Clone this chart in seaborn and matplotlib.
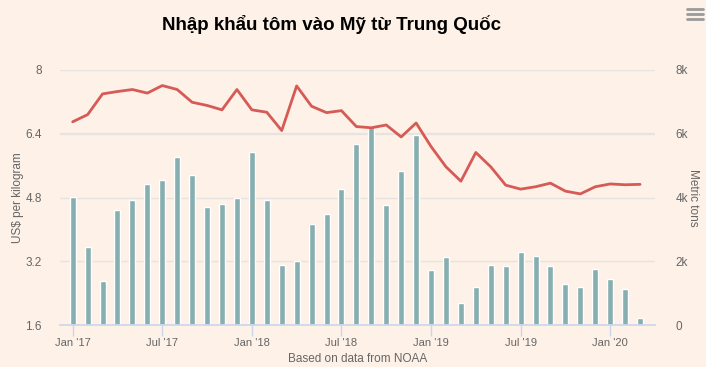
"""
Shrimp imports to the US from China: price line over volume bars.
"""

import matplotlib

matplotlib.use("Agg")

import matplotlib.pyplot as plt
import pandas as pd
import seaborn as sns
from matplotlib.lines import Line2D

# monthly data, Jan 2017 - Mar 2020
months = pd.date_range("2017-01-01", "2020-03-01", freq="MS").strftime("%Y-%m").tolist()

tons = [
    4025, 2457, 1391, 3618, 3932, 4434, 4559, 5281, 4716, 3712, 3806, 3995,
    5437, 3932, 1882, 2018, 3158, 3492, 4277, 5688, 6232, 3775, 4842, 5971,
    1736, 2144, 701, 1203, 1893, 1861, 2300, 2175, 1861, 1297, 1182, 1767,
    1453, 1140, 230,
]

usd_per_kg = [
    6.70, 6.88, 7.40, 7.46, 7.51, 7.42, 7.61, 7.51, 7.19, 7.11, 7.00, 7.51,
    7.00, 6.94, 6.48, 7.60, 7.09, 6.93, 6.98, 6.58, 6.55, 6.62, 6.32, 6.67,
    6.08, 5.57, 5.21, 5.93, 5.57, 5.11, 5.01, 5.07, 5.16, 4.96, 4.89, 5.07,
    5.14, 5.12, 5.13,
]

tick_months = ["2017-01", "2017-07", "2018-01", "2018-07", "2019-01", "2019-07", "2020-01"]
tick_labels = ["Jan '17", "Jul '17", "Jan '18", "Jul '18", "Jan '19", "Jul '19", "Jan '20"]

left_ticks = [1.6, 3.2, 4.8, 6.4, 8]
right_ticks = [0, 2000, 4000, 6000, 8000]
right_labels = ["0", "2k", "4k", "6k", "8k"]

BG = "#fdf1e8"
BAR = "#88afb0"
LINE = "#d65a55"
GRID = "#e6e3e0"
AXIS = "#ccd6eb"
TEXT = "#666666"

df = pd.DataFrame({"month": months, "tons": tons, "price": usd_per_kg})
df["idx"] = range(len(df))

sns.set_theme(style="white")
plt.rcParams["font.family"] = ["Liberation Sans", "DejaVu Sans"]

W, H = 706, 367
fig = plt.figure(figsize=(W / 100, H / 100), dpi=100, facecolor=BG)
ax_bar = fig.add_axes([60 / W, (H - 325) / H, (655 - 60) / W, (325 - 70) / H])
ax_bar.set_facecolor(BG)

sns.barplot(data=df, x="idx", y="tons", color=BAR, width=0.4, native_scale=True,
            saturation=1, ax=ax_bar, zorder=2)
ax_bar.set_ylim(0, 8000)
ax_bar.set_xlim(-0.85, 39.0)

ax_line = ax_bar.twinx()
sns.lineplot(data=df, x="idx", y="price", color=LINE, linewidth=2, ax=ax_line, zorder=3)
ax_line.set_ylim(1.6, 8)

# gridlines (drawn once, shared by both axes)
for v in right_ticks:
    ax_bar.axhline(v, color=GRID, linewidth=1.6 if v == 6000 else 1, zorder=0)

# axes on the right belong to the bars, left to the line
ax_bar.yaxis.tick_right()
ax_bar.yaxis.set_label_position("right")
ax_bar.set_yticks(right_ticks, right_labels)
ax_line.yaxis.tick_left()
ax_line.yaxis.set_label_position("left")
ax_line.set_yticks(left_ticks, ["1.6", "3.2", "4.8", "6.4", "8"])

pos = [months.index(m) for m in tick_months]
ax_bar.set_xticks(pos, tick_labels)

for a in (ax_bar, ax_line):
    for s in a.spines.values():
        s.set_visible(False)
ax_bar.spines["bottom"].set_visible(True)
ax_bar.spines["bottom"].set_color(AXIS)
ax_bar.spines["bottom"].set_zorder(4)

ax_bar.tick_params(axis="x", length=8, width=1, colors=AXIS, labelcolor=TEXT, labelsize=8,
                   pad=1, direction="out", bottom=True)
ax_bar.tick_params(axis="y", length=0, labelsize=8.5, pad=15, labelcolor=TEXT)
ax_line.tick_params(axis="y", length=0, labelsize=8.5, pad=13, labelcolor=TEXT)

ax_bar.set_xlabel("Based on data from NOAA", fontsize=8.5, color=TEXT, labelpad=4)
ax_bar.set_ylabel("Metric tons", fontsize=8.5, color=TEXT, rotation=270, labelpad=8)
ax_line.set_ylabel("US$ per kilogram", fontsize=8.5, color=TEXT, labelpad=1)

fig.text(331 / W, 1 - 24 / H, "Nhập khẩu tôm vào Mỹ từ Trung Quốc", ha="center", va="center",
         fontsize=13.5, fontweight="bold", color="#000000")

# export menu icon
for yy in (9, 14, 19):
    fig.add_artist(Line2D([687 / W, 703 / W], [1 - yy / H, 1 - yy / H], color="#9a9a9a",
                          linewidth=2))

fig.savefig("out.png", dpi=100, facecolor=BG)
